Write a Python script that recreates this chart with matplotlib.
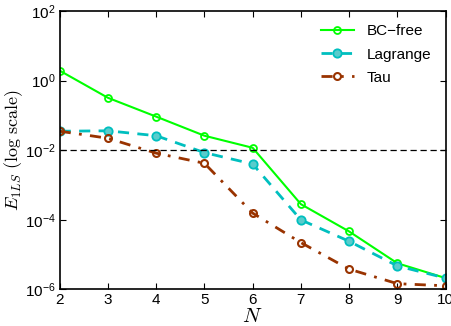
import numpy as np
import matplotlib.pyplot as plt

plt.rcParams['font.family'] = ['Liberation Sans', 'DejaVu Sans']
plt.rcParams['mathtext.fontset'] = 'cm'

N = [2, 3, 4, 5, 6, 7, 8, 9, 10]
bcFree = [1.93, 0.32, 0.092, 0.026, 0.0117, 2.8e-4, 4.6e-5, 5.6e-6, 2.1e-6]
lagrange = [0.035, 0.036, 0.026, 0.0085, 0.004, 9.9e-5, 2.4e-5, 4.7e-6, 2.1e-6]
tau = [0.035, 0.022, 0.0082, 0.0042, 1.55e-4, 2.2e-5, 3.8e-6, 1.45e-6, 1.26e-6]
threshold = 1e-2

fig = plt.figure(figsize=(4.51, 3.26), dpi=100)
ax = fig.add_axes([0.1324, 0.1126, 0.8556, 0.8536])

ax.semilogy(N, bcFree, '-o', color=(0, 1, 0), lw=1.5, ms=5, mfc='none', mew=1.3, label='BC\u2212free')
ax.semilogy(N, lagrange, '--o', color=(0, 0.75, 0.75), lw=2, ms=6, mfc=(0.35, 0.8, 0.8), mew=1.3,
            dashes=(4, 3), label='Lagrange')
ax.semilogy(N, tau, '-.o', color=(0.6, 0.2, 0), lw=2, ms=5, mfc='none', mew=1.5,
            dashes=(4, 3, 1, 3), label='Tau')
ax.axhline(threshold, color='k', ls='--', lw=0.9, dashes=(5, 3))

ax.set_xlim(2, 10)
ax.set_ylim(1e-6, 1e2)
ax.set_xticks(N)
ax.set_yticks([1e-6, 1e-4, 1e-2, 1e0, 1e2])
ax.minorticks_off()
ax.tick_params(direction='in', top=True, right=True, labelsize=11, length=4, pad=3)
for sp in ax.spines.values():
    sp.set_linewidth(1.2)

ax.set_xlabel('$N$', fontsize=15, labelpad=0)
ax.set_ylabel(r'$E_{1LS}\ (\mathrm{log\ scale})$', fontsize=13, labelpad=0)

ax.legend(loc='upper right', frameon=False, fontsize=11, handlelength=2.2,
          bbox_to_anchor=(0.99, 0.99), borderaxespad=0.3, labelspacing=0.6)

fig.savefig('out.png', dpi=100)
